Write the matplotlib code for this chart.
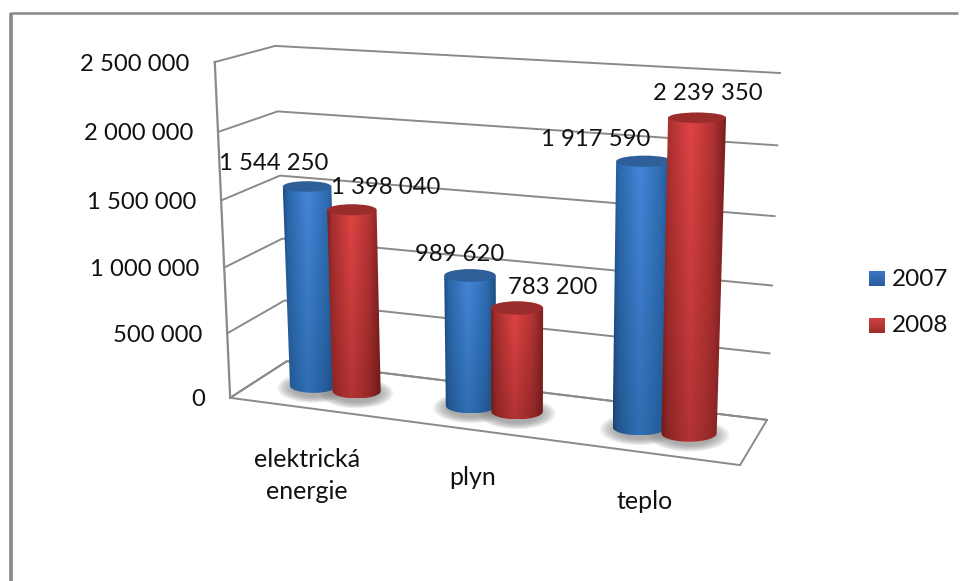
import numpy as np
import matplotlib
matplotlib.use("Agg")
import matplotlib.pyplot as plt
from matplotlib.colors import LinearSegmentedColormap
from matplotlib.patches import Ellipse, Polygon

plt.rcParams["font.family"] = ["Lato", "DejaVu Sans"]

categories = ["elektrická\nenergie", "plyn", "teplo"]
years = ["2007", "2008"]
values_2007 = [1544250, 989620, 1917590]
values_2008 = [1398040, 783200, 2239350]
ticks = [0, 500000, 1000000, 1500000, 2000000, 2500000]

VMAX = 2500000
FONT = 17.2
GRID = "#8a8a8a"
RADIUS = 0.155
DEPTH = 0.5

# calibration of the 3D box: (category pos, depth, value share) -> pixel
BOX = [
    ((0, 0, 0), (230, 398)),
    ((0, 0, 1), (215, 62)),
    ((0, 1, 0), (287, 361)),
    ((0, 1, 1), (275, 46)),
    ((3, 1, 0), (767, 420)),
    ((3, 1, 1), (780, 73)),
    ((3, 0, 0), (740, 465)),
]


def fit_projection(pairs):
    rows = []
    for (x, d, z), (u, v) in pairs:
        rows.append([x, d, z, 1, 0, 0, 0, 0, -u * x, -u * d, -u * z, -u])
        rows.append([0, 0, 0, 0, x, d, z, 1, -v * x, -v * d, -v * z, -v])
    return np.linalg.svd(np.array(rows, dtype=float))[2][-1].reshape(3, 4)


P = fit_projection(BOX)


def project(x, d, value):
    p = P @ np.array([x, d, value / VMAX, 1.0])
    return p[0] / p[2], p[1] / p[2]


def fmt(v):
    return f"{v:,}".replace(",", " ")


def draw_shadow(ax, x, y, w, h):
    for k in np.linspace(1, 0.6, 12):
        ax.add_patch(Ellipse((x, y + 2), (w + 26) * k, (h + 16) * k, fc="#808080", ec="none", alpha=0.08, zorder=2))


def draw_cylinder(ax, pos, value, cmap, top_color, z):
    xt, yt = project(pos, DEPTH, value)
    xb, yb = project(pos, DEPTH, 0)
    wt = project(pos + RADIUS, DEPTH, value)[0] - project(pos - RADIUS, DEPTH, value)[0]
    wb = project(pos + RADIUS, DEPTH, 0)[0] - project(pos - RADIUS, DEPTH, 0)[0]
    ratio_top = 0.3 - 0.12 * value / 2239350
    ht = wt * ratio_top
    hb = wb * 0.3

    left = min(xt - wt / 2, xb - wb / 2)
    right = max(xt + wt / 2, xb + wb / 2)
    bottom = yb + hb / 2
    # cylinder shading, light left of the middle, dark at both edges
    across = np.linspace(0, 1, 80)
    profile = np.interp(across, [0, 0.08, 0.45, 0.8, 1], [0.2, 0.5, 1.0, 0.6, 0.2])
    down = np.linspace(1.0, 0.62, 80)[:, None]
    shade = profile[None, :] * down
    img = ax.imshow(shade, extent=(left, right, bottom, yt), cmap=cmap, vmin=0, vmax=1,
                    aspect="auto", interpolation="bilinear", zorder=z)
    t = np.linspace(0, np.pi, 40)
    lower = np.column_stack([xb + wb / 2 * np.cos(t), yb + hb / 2 * np.sin(t)])
    outline = np.vstack([[[xt - wt / 2, yt], [xt + wt / 2, yt]], lower])
    clip = Polygon(outline, closed=True, transform=ax.transData, fc="none", ec="none")
    ax.add_patch(clip)
    img.set_clip_path(clip)
    ax.add_patch(Ellipse((xt, yt), wt, ht, fc=top_color, ec="none", zorder=z + 0.1))


fig = plt.figure(figsize=(9.6, 5.81), dpi=100)
ax = fig.add_axes([0, 0, 1, 1])

# outer frame, only top and left survive in the picture
ax.plot([10.5, 10.5], [581, 13], color="#888888", lw=2.6, zorder=1, solid_capstyle="butt")
ax.plot([9.5, 958], [13, 13], color="#888888", lw=1.8, zorder=1, solid_capstyle="butt")

# walls
for t in ticks:
    pts = [project(0, 0, t), project(0, 1, t), project(3, 1, t)]
    ax.plot(*zip(*pts), color=GRID, lw=1.4, zorder=1)
    px, py = project(0, 0, t)
    ax.text(px - 25, py + 2, fmt(t), ha="right", va="center", fontsize=FONT, color="#111111", zorder=6)
ax.plot(*zip(project(0, 0, 0), project(0, 0, VMAX)), color=GRID, lw=1.6, zorder=1)
floor = [project(0, 0, 0), project(3, 0, 0), project(3, 1, 0), project(0, 1, 0), project(0, 0, 0)]
ax.plot(*zip(*floor), color=GRID, lw=1.4, zorder=1)

blue = LinearSegmentedColormap.from_list("b", ["#173a66", "#2a66a8", "#4486d8"])
red = LinearSegmentedColormap.from_list("r", ["#5c1414", "#a52e2e", "#e04444"])
SERIES = [(values_2007, blue, "#2f5f98", -0.14), (values_2008, red, "#9a2c2c", 0.14)]

# shadows first so no bar gets covered
for vals, cmap, top, off in SERIES:
    for i, v in enumerate(vals):
        xb, yb = project(i + 0.5 + off, DEPTH, 0)
        w = project(i + 0.5 + off + RADIUS, DEPTH, 0)[0] - project(i + 0.5 + off - RADIUS, DEPTH, 0)[0]
        draw_shadow(ax, xb, yb, w, w * 0.3)

for s, (vals, cmap, top, off) in enumerate(SERIES):
    for i, v in enumerate(vals):
        draw_cylinder(ax, i + 0.5 + off, v, cmap, top, 3 + s + i * 0.1)

# data labels were dragged around in the original
label_shift = [[(-33, -23), (-10, -21), (-49, -22)], [(34, -22), (36, -20), (11, -24)]]
for s, (vals, cmap, top, off) in enumerate(SERIES):
    for i, v in enumerate(vals):
        x, y = project(i + 0.5 + off, DEPTH, v)
        dx, dy = label_shift[s][i]
        ax.text(x + dx, y + dy, fmt(v), ha="center", va="center", fontsize=FONT, color="#111111", zorder=7)

cat_shift = [(-1, 67), (1, 48), (-3, 49)]
for i, c in enumerate(categories):
    x, y = project(i + 0.5, 0, 0)
    ax.text(x + cat_shift[i][0], y + cat_shift[i][1], c, ha="center", va="center", fontsize=18,
            linespacing=1.47, color="#111111", zorder=6)

# legend
for name, y0, c0, c1 in [(years[0], 271, "#3a78c8", "#2a5c9c"), (years[1], 318, "#d04040", "#a02c2c")]:
    grad = LinearSegmentedColormap.from_list("g", [c0, c1])
    ax.imshow(np.linspace(0, 1, 20)[:, None], extent=(869, 885, y0 + 15, y0), cmap=grad, aspect="auto", zorder=6)
    ax.text(892, y0 + 8, name, ha="left", va="center", fontsize=17.5, color="#111111", zorder=6)

ax.set_xlim(0, 960)
ax.set_ylim(581, 0)
ax.axis("off")

fig.savefig("out.png", dpi=100, facecolor="white")
